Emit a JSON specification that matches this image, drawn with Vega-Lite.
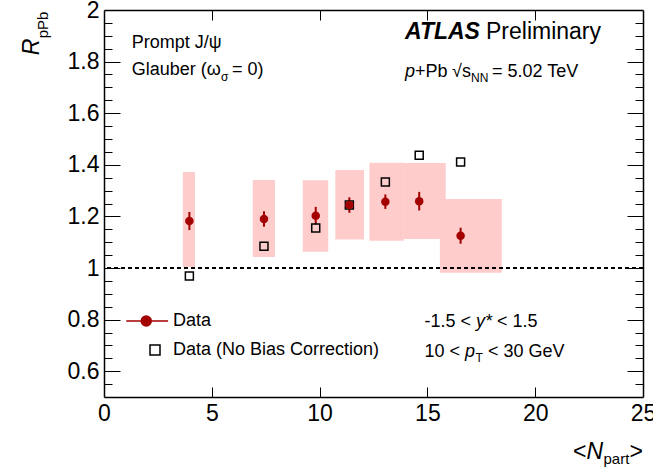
{
  "$schema": "https://vega.github.io/schema/vega-lite/v6.json",
  "width": 539,
  "height": 387,
  "autosize": {"type": "none"},
  "padding": {"left": 104, "top": 10, "right": 10, "bottom": 70},
  "background": "white",
  "config": {
    "view": {"stroke": null},
    "font": "Liberation Sans",
    "axis": {"grid": false, "title": null, "domainColor": "black", "domainWidth": 1.5, "tickColor": "black", "tickWidth": 1, "labelColor": "black", "labelFont": "Liberation Sans", "labelFontSize": 23, "labelFlush": false, "labelOverlap": false},
    "legend": {"title": null, "orient": "none", "legendX": 42, "legendY": 302, "padding": 0, "rowPadding": 11, "labelFontSize": 18, "labelFont": "Liberation Sans", "labelColor": "black", "labelOffset": 9, "labelLimit": 0}
  },
  "data": {
    "values": [
      {"npart": 3.96, "r": 1.182, "elo": 1.147, "ehi": 1.217, "nlo": 3.66, "nhi": 4.22, "rlo": 1.004, "rhi": 1.372, "rnb": 0.969},
      {"npart": 7.42, "r": 1.190, "elo": 1.160, "ehi": 1.220, "nlo": 6.90, "nhi": 7.93, "rlo": 1.043, "rhi": 1.341, "rnb": 1.084},
      {"npart": 9.82, "r": 1.203, "elo": 1.169, "ehi": 1.237, "nlo": 9.22, "nhi": 10.40, "rlo": 1.063, "rhi": 1.340, "rnb": 1.155},
      {"npart": 11.38, "r": 1.244, "elo": 1.214, "ehi": 1.274, "nlo": 10.73, "nhi": 12.06, "rlo": 1.110, "rhi": 1.380, "rnb": 1.244},
      {"npart": 13.05, "r": 1.257, "elo": 1.229, "ehi": 1.285, "nlo": 12.31, "nhi": 13.91, "rlo": 1.106, "rhi": 1.408, "rnb": 1.333},
      {"npart": 14.62, "r": 1.259, "elo": 1.223, "ehi": 1.295, "nlo": 13.91, "nhi": 15.85, "rlo": 1.112, "rhi": 1.407, "rnb": 1.437},
      {"npart": 16.54, "r": 1.125, "elo": 1.094, "ehi": 1.156, "nlo": 15.58, "nhi": 18.45, "rlo": 0.982, "rhi": 1.267, "rnb": 1.411}
    ]
  },
  "resolve": {"axis": {"x": "independent", "y": "independent"}},
  "layer": [
    {
      "mark": {"type": "rect", "color": "#ffcccc", "strokeWidth": 0, "opacity": 1},
      "encoding": {
        "x": {"field": "nlo", "type": "quantitative", "scale": {"domain": [0, 25], "nice": false, "zero": false},
              "axis": {"orient": "bottom", "values": [0, 5, 10, 15, 20, 25], "ticks": false, "tickSize": 0, "labelPadding": 5, "labelExpr": "'' + datum.value", "domain": true}},
        "x2": {"field": "nhi"},
        "y": {"field": "rlo", "type": "quantitative", "scale": {"domain": [0.5, 2], "nice": false, "zero": false},
              "axis": {"orient": "left", "values": [0.6, 0.8, 1, 1.2, 1.4, 1.6, 1.8, 2], "ticks": false, "tickSize": 0, "labelPadding": 5, "labelExpr": "'' + datum.value", "domain": true}},
        "y2": {"field": "rhi"}
      }
    },
    {
      "mark": {"type": "rule", "color": "#a30000", "strokeWidth": 2},
      "encoding": {
        "x": {"field": "npart", "type": "quantitative",
              "axis": {"orient": "bottom", "values": [5, 10, 15, 20], "tickSize": -10, "labels": false, "domain": false}},
        "y": {"field": "elo", "type": "quantitative",
              "axis": {"orient": "left", "values": [0.6, 0.8, 1, 1.2, 1.4, 1.6, 1.8], "tickSize": -16, "labels": false, "domain": false}},
        "y2": {"field": "ehi"}
      }
    },
    {
      "mark": {"type": "rule", "color": "black", "strokeWidth": 1.5, "strokeDash": [4, 3]},
      "encoding": {
        "y": {"datum": 1, "type": "quantitative",
              "axis": {"orient": "right", "values": [0.55, 0.65, 0.7, 0.75, 0.85, 0.9, 0.95, 1.05, 1.1, 1.15, 1.25, 1.3, 1.35, 1.45, 1.5, 1.55, 1.65, 1.7, 1.75, 1.85, 1.9, 1.95], "tickSize": -8, "labels": false, "domain": false}}
      }
    },
    {
      "mark": {"type": "point", "size": 64, "strokeWidth": 1.5, "opacity": 1},
      "encoding": {
        "x": {"field": "npart", "type": "quantitative",
              "axis": {"orient": "top", "values": [5, 10, 15, 20], "tickSize": -10, "labels": false, "domain": true}},
        "y": {"field": "rnb", "type": "quantitative",
              "axis": {"orient": "left", "values": [0.55, 0.65, 0.7, 0.75, 0.85, 0.9, 0.95, 1.05, 1.1, 1.15, 1.25, 1.3, 1.35, 1.45, 1.5, 1.55, 1.65, 1.7, 1.75, 1.85, 1.9, 1.95], "tickSize": -8, "labels": false, "domain": false}},
        "shape": {"datum": "Data (No Bias Correction)", "type": "nominal",
                  "scale": {"domain": ["Data", "Data (No Bias Correction)"], "range": ["M-5.75,0L2.625,0M-2.75,0A1,1,0,1,1,-0.75,0A1,1,0,1,1,-2.75,0Z", "square"]}},
        "fill": {"datum": "Data (No Bias Correction)", "type": "nominal",
                 "scale": {"domain": ["Data", "Data (No Bias Correction)"], "range": ["#a30000", "transparent"]}},
        "stroke": {"datum": "Data (No Bias Correction)", "type": "nominal",
                   "scale": {"domain": ["Data", "Data (No Bias Correction)"], "range": ["#a30000", "black"]}}
      }
    },
    {
      "mark": {"type": "point", "shape": "circle", "filled": true, "size": 72, "color": "#a30000", "opacity": 1},
      "encoding": {
        "x": {"field": "npart", "type": "quantitative", "axis": null},
        "y": {"field": "r", "type": "quantitative",
              "axis": {"orient": "right", "values": [0.6, 0.8, 1, 1.2, 1.4, 1.6, 1.8], "tickSize": -16, "labels": false, "domain": true}}
      }
    },
    {"data": {"values": [{}]}, "mark": {"type": "text", "text": "Prompt J/ψ", "align": "left", "baseline": "middle", "fontSize": 18, "color": "black"},
     "encoding": {"x": {"datum": 1.285, "type": "quantitative", "axis": null}, "y": {"datum": 1.873, "type": "quantitative", "axis": null}}},
    {"data": {"values": [{}]}, "mark": {"type": "text", "text": "Glauber (ω", "align": "left", "baseline": "middle", "fontSize": 18, "color": "black"},
     "encoding": {"x": {"datum": 1.285, "type": "quantitative", "axis": null}, "y": {"datum": 1.767, "type": "quantitative", "axis": null}}},
    {"data": {"values": [{}]}, "mark": {"type": "text", "text": "σ", "align": "left", "baseline": "middle", "fontSize": 12, "color": "black"},
     "encoding": {"x": {"datum": 5.427, "type": "quantitative", "axis": null}, "y": {"datum": 1.740, "type": "quantitative", "axis": null}}},
    {"data": {"values": [{}]}, "mark": {"type": "text", "text": "= 0)", "align": "left", "baseline": "middle", "fontSize": 18, "color": "black"},
     "encoding": {"x": {"datum": 5.937, "type": "quantitative", "axis": null}, "y": {"datum": 1.767, "type": "quantitative", "axis": null}}},
    {"data": {"values": [{}]}, "mark": {"type": "text", "text": "ATLAS", "align": "left", "baseline": "middle", "fontSize": 23, "fontWeight": "bold", "fontStyle": "italic", "color": "black"},
     "encoding": {"x": {"datum": 13.96, "type": "quantitative", "axis": null}, "y": {"datum": 1.915, "type": "quantitative", "axis": null}}},
    {"data": {"values": [{}]}, "mark": {"type": "text", "text": "Preliminary", "align": "left", "baseline": "middle", "fontSize": 23, "color": "black"},
     "encoding": {"x": {"datum": 17.718, "type": "quantitative", "axis": null}, "y": {"datum": 1.915, "type": "quantitative", "axis": null}}},
    {"data": {"values": [{}]}, "mark": {"type": "text", "text": "p", "align": "left", "baseline": "middle", "fontSize": 18, "fontStyle": "italic", "color": "black"},
     "encoding": {"x": {"datum": 13.96, "type": "quantitative", "axis": null}, "y": {"datum": 1.760, "type": "quantitative", "axis": null}}},
    {"data": {"values": [{}]}, "mark": {"type": "text", "text": "+Pb", "align": "left", "baseline": "middle", "fontSize": 18, "color": "black"},
     "encoding": {"x": {"datum": 14.425, "type": "quantitative", "axis": null}, "y": {"datum": 1.760, "type": "quantitative", "axis": null}}},
    {"data": {"values": [{}]}, "mark": {"type": "text", "text": "√s", "align": "left", "baseline": "middle", "fontSize": 18, "color": "black"},
     "encoding": {"x": {"datum": 16.141, "type": "quantitative", "axis": null}, "y": {"datum": 1.760, "type": "quantitative", "axis": null}}},
    {"data": {"values": [{}]}, "mark": {"type": "text", "text": "NN", "align": "left", "baseline": "middle", "fontSize": 12, "color": "black"},
     "encoding": {"x": {"datum": 17.022, "type": "quantitative", "axis": null}, "y": {"datum": 1.7364, "type": "quantitative", "axis": null}}},
    {"data": {"values": [{}]}, "mark": {"type": "text", "text": "= 5.02 TeV", "align": "left", "baseline": "middle", "fontSize": 18, "color": "black"},
     "encoding": {"x": {"datum": 18.0, "type": "quantitative", "axis": null}, "y": {"datum": 1.760, "type": "quantitative", "axis": null}}},
    {"data": {"values": [{}]}, "mark": {"type": "text", "text": "-1.5 <", "align": "left", "baseline": "middle", "fontSize": 18, "color": "black"},
     "encoding": {"x": {"datum": 14.866, "type": "quantitative", "axis": null}, "y": {"datum": 0.7919, "type": "quantitative", "axis": null}}},
    {"data": {"values": [{}]}, "mark": {"type": "text", "text": "y*", "align": "left", "baseline": "middle", "fontSize": 18, "fontStyle": "italic", "color": "black"},
     "encoding": {"x": {"datum": 17.254, "type": "quantitative", "axis": null}, "y": {"datum": 0.7919, "type": "quantitative", "axis": null}}},
    {"data": {"values": [{}]}, "mark": {"type": "text", "text": "< 1.5", "align": "left", "baseline": "middle", "fontSize": 18, "color": "black"},
     "encoding": {"x": {"datum": 18.228, "type": "quantitative", "axis": null}, "y": {"datum": 0.7919, "type": "quantitative", "axis": null}}},
    {"data": {"values": [{}]}, "mark": {"type": "text", "text": "10 <", "align": "left", "baseline": "middle", "fontSize": 18, "color": "black"},
     "encoding": {"x": {"datum": 14.866, "type": "quantitative", "axis": null}, "y": {"datum": 0.6756, "type": "quantitative", "axis": null}}},
    {"data": {"values": [{}]}, "mark": {"type": "text", "text": "p", "align": "left", "baseline": "middle", "fontSize": 18, "fontStyle": "italic", "color": "black"},
     "encoding": {"x": {"datum": 16.744, "type": "quantitative", "axis": null}, "y": {"datum": 0.6756, "type": "quantitative", "axis": null}}},
    {"data": {"values": [{}]}, "mark": {"type": "text", "text": "T", "align": "left", "baseline": "middle", "fontSize": 12, "color": "black"},
     "encoding": {"x": {"datum": 17.231, "type": "quantitative", "axis": null}, "y": {"datum": 0.6512, "type": "quantitative", "axis": null}}},
    {"data": {"values": [{}]}, "mark": {"type": "text", "text": "< 30 GeV", "align": "left", "baseline": "middle", "fontSize": 18, "color": "black"},
     "encoding": {"x": {"datum": 17.811, "type": "quantitative", "axis": null}, "y": {"datum": 0.6756, "type": "quantitative", "axis": null}}},
    {"data": {"values": [{}]}, "mark": {"type": "text", "text": "<", "align": "left", "baseline": "middle", "fontSize": 23, "color": "black"},
     "encoding": {"x": {"datum": 21.753, "type": "quantitative", "axis": null}, "y": {"datum": 0.2868, "type": "quantitative", "axis": null}}},
    {"data": {"values": [{}]}, "mark": {"type": "text", "text": "N", "align": "left", "baseline": "middle", "fontSize": 23, "fontStyle": "italic", "color": "black"},
     "encoding": {"x": {"datum": 22.379, "type": "quantitative", "axis": null}, "y": {"datum": 0.2868, "type": "quantitative", "axis": null}}},
    {"data": {"values": [{}]}, "mark": {"type": "text", "text": "part", "align": "left", "baseline": "middle", "fontSize": 15, "color": "black"},
     "encoding": {"x": {"datum": 23.168, "type": "quantitative", "axis": null}, "y": {"datum": 0.2597, "type": "quantitative", "axis": null}}},
    {"data": {"values": [{}]}, "mark": {"type": "text", "text": ">", "align": "left", "baseline": "middle", "fontSize": 23, "color": "black"},
     "encoding": {"x": {"datum": 24.374, "type": "quantitative", "axis": null}, "y": {"datum": 0.2868, "type": "quantitative", "axis": null}}},
    {"data": {"values": [{}]}, "mark": {"type": "text", "text": "R", "align": "center", "baseline": "middle", "angle": 270, "fontSize": 23, "fontStyle": "italic", "color": "black"},
     "encoding": {"x": {"datum": -3.339, "type": "quantitative", "axis": null}, "y": {"datum": 1.8566, "type": "quantitative", "axis": null}}},
    {"data": {"values": [{}]}, "mark": {"type": "text", "text": "pPb", "align": "center", "baseline": "middle", "angle": 270, "fontSize": 15, "color": "black"},
     "encoding": {"x": {"datum": -2.829, "type": "quantitative", "axis": null}, "y": {"datum": 1.9419, "type": "quantitative", "axis": null}}}
  ]
}
